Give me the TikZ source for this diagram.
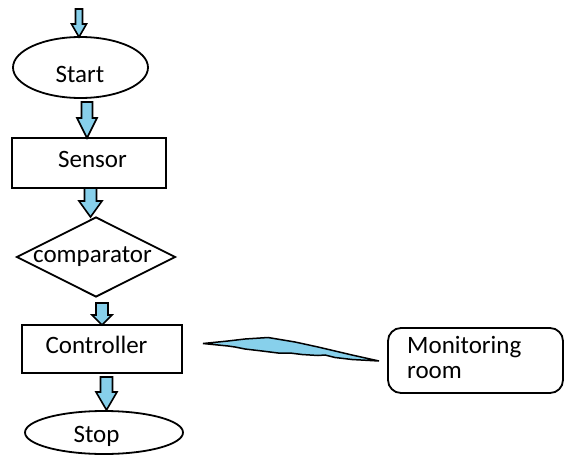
\documentclass[tikz,border=0pt]{standalone}
\usepackage{fontspec}
\setmainfont{Carlito}
\usetikzlibrary{shapes.geometric}
\definecolor{flowblue}{RGB}{135,208,235}
% block arrow: centre x, top y, y where the head starts, tip y, shaft width, head width
\newcommand\blockarrow[6]{%
  \filldraw[arrowbody] ({#1-#5/2},#2) -- ({#1+#5/2},#2) -- ({#1+#5/2},#3)
    -- ({#1+#6/2},#3) -- (#1,#4) -- ({#1-#6/2},#3) -- ({#1-#5/2},#3) -- cycle;}
\begin{document}
\begin{tikzpicture}[x=1pt,y=-1pt,
  outline/.style={draw=black,line width=1.8pt},
  termbox/.style={outline,ellipse,inner sep=0pt},
  procbox/.style={outline,rectangle,inner sep=0pt},
  decbox/.style={outline,diamond,inner sep=0pt},
  roundbox/.style={outline,rectangle,rounded corners=13pt,inner sep=0pt},
  arrowbody/.style={draw=black,fill=flowblue,line width=1.6pt,line join=miter},
  txt/.style={font=\fontsize{25}{30}\selectfont,inner sep=0pt,anchor=base},
  ltxt/.style={txt,anchor=base west}]
\useasboundingbox (0,0) rectangle (565,455);

% flowchart shapes
\node[termbox,minimum width=135pt,minimum height=61pt] (start) at (80.5,67.5) {};
\node[procbox,minimum width=154pt,minimum height=50pt] (sensor) at (89,163) {};
\node[decbox,minimum width=159pt,minimum height=80pt] (comp) at (96,257) {};
\node[procbox,minimum width=160pt,minimum height=48pt] (ctrl) at (102,349) {};
\node[termbox,minimum width=158pt,minimum height=43pt] (stop) at (104,432.5) {};
\node[roundbox,minimum width=175pt,minimum height=65pt] (mon) at (475.5,360.5) {};

% labels
\node[txt] (tstart) at (80,82) {Start};
\node[txt] (tsensor) at (92.5,167) {Sensor};
\node[txt] (tcomp) at (92.5,262) {comparator};
\node[txt] (tctrl) at (96.5,353) {Controller};
\node[txt] (tstop) at (96.5,442) {Stop};
\node[ltxt] (tmon1) at (407,353) {Monitoring};
\node[ltxt] (tmon2) at (407,378) {room};

% flow arrows
\blockarrow{79}{9}{24}{37}{7}{15}
\blockarrow{87}{102}{118}{138}{11}{20}
\blockarrow{90.5}{188}{201}{217}{12}{23}
\blockarrow{102}{303}{315}{325}{12}{20}
\blockarrow{106.5}{377}{392}{410}{12}{21}

% wireless link to the monitoring room
\filldraw[arrowbody,line width=1.5pt] (203,343.5) -- (228,341) -- (245,339) -- (268,337.5)
  -- (280,339.5) -- (295,342) -- (302,343.5) -- (318,347) -- (335,351)
  -- (352,355) -- (379,361) -- (352,359.5) -- (335,357.5) -- (325,355)
  -- (318,355.5) -- (302,354.5) -- (290,353) -- (278,353) -- (262,351)
  -- (245,349) -- (235,347) -- (228,346) -- cycle;
\end{tikzpicture}
\end{document}
